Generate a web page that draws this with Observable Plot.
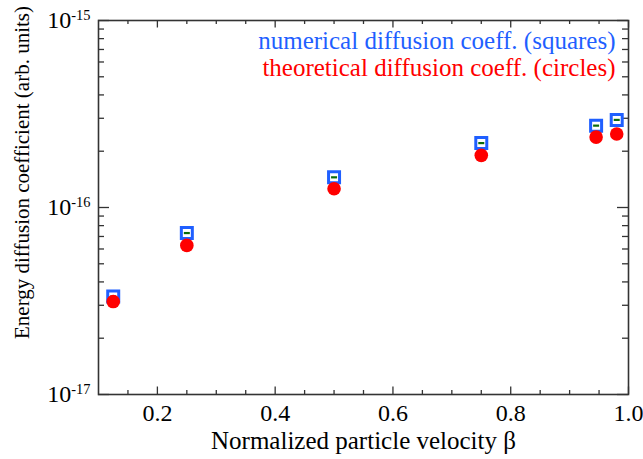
<!DOCTYPE html>
<html><head><meta charset="utf-8">
<script src="https://cdn.jsdelivr.net/npm/d3@7"></script>
<script src="https://cdn.jsdelivr.net/npm/@observablehq/plot@0.6"></script>
<style>body{margin:0;background:#fff}</style>
</head><body><div id="chart"></div>
<script>
const beta = [0.125, 0.25, 0.5, 0.75, 0.945, 0.98];
const numerical = [3.34e-17, 7.3e-17, 1.45e-16, 2.21e-16, 2.74e-16, 2.94e-16];
const theoretical = [3.14e-17, 6.27e-17, 1.26e-16, 1.90e-16, 2.38e-16, 2.47e-16];
const xMajorTicks = [0.2, 0.4, 0.6, 0.8, 1.0];
const xMinorTicks = [0.15, 0.25, 0.3, 0.35, 0.45, 0.5, 0.55, 0.65, 0.7, 0.75, 0.85, 0.9, 0.95];
const yMajorTicks = [1e-17, 1e-16, 1e-15];
const yMinorTicks = [2e-17, 3e-17, 4e-17, 5e-17, 6e-17, 7e-17, 8e-17, 9e-17,
                     2e-16, 3e-16, 4e-16, 5e-16, 6e-16, 7e-16, 8e-16, 9e-16];
const legendLines = ["numerical diffusion coeff. (squares)", "theoretical diffusion coeff. (circles)"];
const xLabel = "Normalized particle velocity β";
const yLabel = "Energy diffusion coefficient (arb. units)";

const data = beta.map((b, i) => ({beta: b, numerical: numerical[i], theoretical: theoretical[i]}));

const W = 643, H = 459, mL = 98, mT = 20, mR = 15, mB = 65;
const pW = W - mL - mR, pH = H - mT - mB;
const axisColor = "#333";
const blue = "#1f5fff", red = "#ff0000", green = "#0b6b0b";
const fs = 24;

const dashSymbol = {draw(ctx) { ctx.moveTo(-3, 0); ctx.lineTo(3, 0); }};

const chart = Plot.plot({
  width: W, height: H,
  marginLeft: mL, marginTop: mT, marginRight: mR, marginBottom: mB,
  style: {fontFamily: "'Liberation Serif', 'Times New Roman', serif", background: "#fff", color: "#000"},
  x: {domain: [0.1, 1.0]},
  y: {type: "log", domain: [1e-17, 1e-15]},
  marks: [
    Plot.axisX({ticks: xMajorTicks, tickSize: 0, tickPadding: 9, tickFormat: d3.format(".1f"), label: null, fontSize: fs}),
    Plot.axisY({ticks: yMajorTicks, tickSize: 0, tickPadding: 8, tickFormat: d => "10^" + Math.round(Math.log10(d)), label: null, fontSize: fs}),
    // inward ticks
    Plot.tickX(xMajorTicks, {x: d => d, insetTop: pH - 7.5, stroke: axisColor, strokeWidth: 1.3}),
    Plot.tickX(xMajorTicks, {x: d => d, insetBottom: pH - 7.5, stroke: axisColor, strokeWidth: 1.3}),
    Plot.tickX(xMinorTicks, {x: d => d, insetTop: pH - 4, stroke: axisColor, strokeWidth: 1.3}),
    Plot.tickX(xMinorTicks, {x: d => d, insetBottom: pH - 4, stroke: axisColor, strokeWidth: 1.3}),
    Plot.tickY(yMajorTicks, {y: d => d, insetRight: pW - 11, stroke: axisColor, strokeWidth: 1.3}),
    Plot.tickY(yMajorTicks, {y: d => d, insetLeft: pW - 11, stroke: axisColor, strokeWidth: 1.3}),
    Plot.tickY(yMinorTicks, {y: d => d, insetRight: pW - 6, stroke: axisColor, strokeWidth: 1.3}),
    Plot.tickY(yMinorTicks, {y: d => d, insetLeft: pW - 6, stroke: axisColor, strokeWidth: 1.3}),
    Plot.frame({stroke: axisColor, strokeWidth: 1.6}),
    // data
    Plot.dot(data, {x: "beta", y: "numerical", symbol: "square", r: 6.2, stroke: blue, strokeWidth: 3, fill: "none"}),
    Plot.dot(data, {x: "beta", y: "numerical", symbol: dashSymbol, r: 3, stroke: green, strokeWidth: 2.2}),
    Plot.dot(data, {x: "beta", y: "theoretical", r: 6.8, fill: red}),
    // legend
    Plot.text([legendLines[0]], {frameAnchor: "top-right", textAnchor: "end", lineAnchor: "middle", dx: -13, dy: 20.3, fill: blue, fontSize: 25}),
    Plot.text([legendLines[1]], {frameAnchor: "top-right", textAnchor: "end", lineAnchor: "middle", dx: -13, dy: 47, fill: red, fontSize: 25}),
    // axis labels
    Plot.text([xLabel], {frameAnchor: "bottom", textAnchor: "middle", lineAnchor: "middle", dy: 46.3, fontSize: 25, fill: "#000"}),
    Plot.text([yLabel], {frameAnchor: "left", textAnchor: "middle", rotate: -90, lineAnchor: "middle", dx: -76, dy: -35, fontSize: 21, fill: "#000"})
  ]
});

const ns = "http://www.w3.org/2000/svg";
chart.querySelectorAll('g[aria-label="y-axis tick label"] text').forEach(t => {
  const parts = t.textContent.split("^");
  t.textContent = parts[0];
  const ts = document.createElementNS(ns, "tspan");
  ts.setAttribute("dy", "-0.55em");
  ts.setAttribute("font-size", "0.6em");
  ts.textContent = parts[1];
  t.appendChild(ts);
});
document.getElementById("chart").appendChild(chart);
</script>
</body></html>
